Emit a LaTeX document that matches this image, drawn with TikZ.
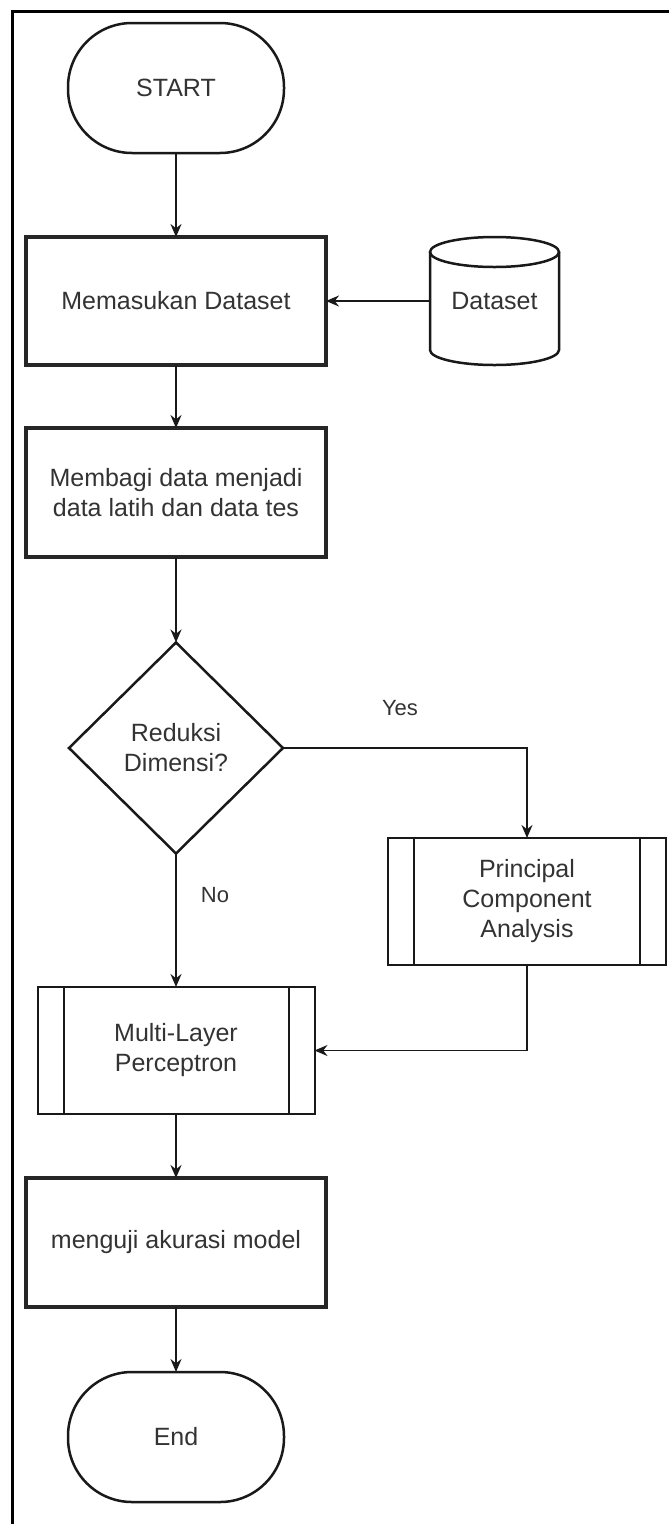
\documentclass[tikz,border=0pt]{standalone}
\usepackage{fontspec}
\setmainfont{Liberation Sans}
\usetikzlibrary{shapes.geometric,arrows.meta}
\tikzset{
  base/.style={outer sep=0pt, inner sep=0pt, text=black!80, font=\fontsize{25}{30}\selectfont, align=center},
  term/.style={base, draw=black!90, line width=2.5pt, rectangle, rounded corners=64pt, minimum width=216pt, minimum height=130pt},
  proc/.style={base, draw=black!85, line width=3.5pt, rectangle, minimum width=300pt, minimum height=128pt},
  subp/.style={base, draw=black!90, line width=2pt, rectangle, minimum width=277pt, minimum height=127pt},
  dec/.style={base, draw=black!90, line width=2.5pt, diamond, minimum width=214pt, minimum height=211pt},
  lbl/.style={text=black!80, font=\fontsize{22}{26}\selectfont, inner sep=0pt},
  arr/.style={draw=black!90, line width=1.6pt, -{Stealth[length=13pt,width=11pt]}},
}
\begin{document}
\begin{tikzpicture}[x=1pt,y=-1pt]
\useasboundingbox (0,0) rectangle (669,1524);
\fill[white] (0,0) rectangle (669,1524);
% frame
\draw[line width=3pt, black] (669,11) -- (12,11) -- (12,1524);

\node[term] (start) at (176,88) {START};
\node[proc] (in1) at (176,301) {Memasukan Dataset};
% cylinder
\node[base, minimum width=129pt, minimum height=128pt] (ds) at (494.5,301) {Dataset};
\draw[line width=2.5pt, black!90] (430,252) -- (430,350) arc[start angle=180, end angle=360, x radius=64.5pt, y radius=15pt] -- (559,252);
\draw[line width=2.5pt, black!90] (494.5,252) ellipse [x radius=64.5pt, y radius=15pt];

\node[proc, minimum height=129pt] (split) at (176,492.5) {Membagi data menjadi\\data latih dan data tes};
\node[dec] (dec) at (176,748) {Reduksi\\Dimensi?};
\node[subp, minimum width=278pt] (pca) at (527,901.5) {Principal\\Component\\Analysis};
\draw[line width=2pt, black!90] ([xshift=26pt]pca.north west) -- ([xshift=26pt]pca.south west);
\draw[line width=2pt, black!90] ([xshift=-26pt]pca.north east) -- ([xshift=-26pt]pca.south east);
\node[subp] (mlp) at (176,1050.5) {Multi-Layer\\Perceptron};
\draw[line width=2pt, black!90] ([xshift=26pt]mlp.north west) -- ([xshift=26pt]mlp.south west);
\draw[line width=2pt, black!90] ([xshift=-26pt]mlp.north east) -- ([xshift=-26pt]mlp.south east);
\node[proc, minimum height=129pt] (test) at (176,1242.5) {menguji akurasi model};
\node[term] (end) at (176,1437) {End};

\node[lbl] (yes) at (400,708) {Yes};
\node[lbl] (no) at (215,895) {No};

\draw[arr] (start.south) -- (in1.north);
\draw[arr] (ds.west) -- (in1.east);
\draw[arr] (in1.south) -- (split.north);
\draw[arr] (split.south) -- (dec.north);
\draw[arr] (dec.east) -| (pca.north);
\draw[arr] (dec.south) -- (mlp.north);
\draw[arr] (pca.south) |- (mlp.east);
\draw[arr] (mlp.south) -- (test.north);
\draw[arr] (test.south) -- (end.north);
\end{tikzpicture}
\end{document}
